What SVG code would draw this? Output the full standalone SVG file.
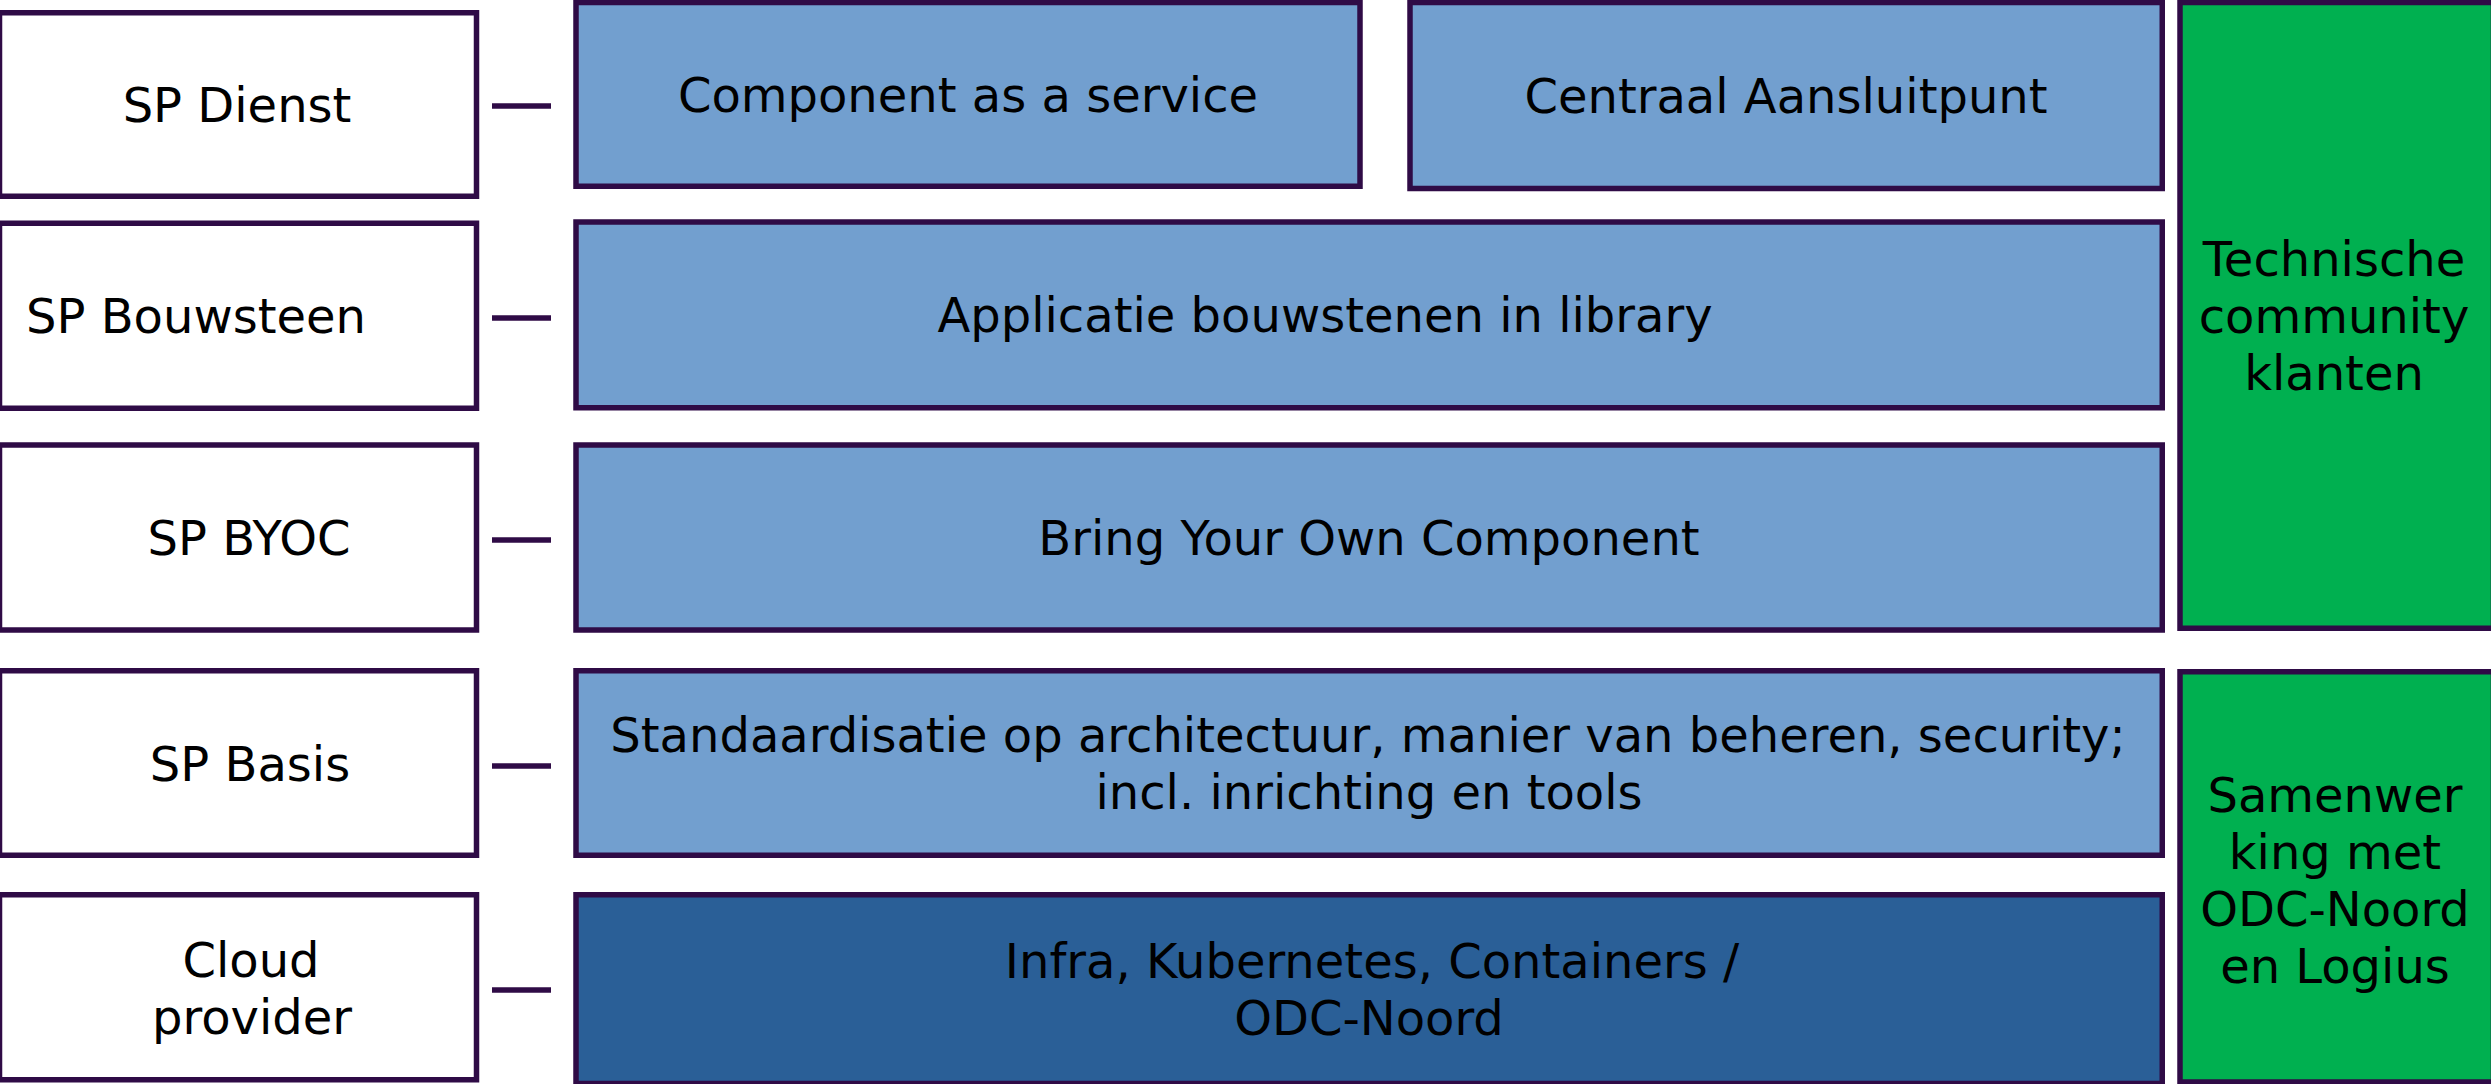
<svg xmlns="http://www.w3.org/2000/svg" width="2491" height="1084" viewBox="0 0 2491 1084">
<style>
.box{stroke:#2f0b46;stroke-width:5.5}
.w{fill:#ffffff}
.lb{fill:#729fcf}
.db{fill:#2a5f97}
.g{fill:#00b050}
text{font-family:"DejaVu Sans","Liberation Sans",sans-serif;font-size:48px;fill:#000000;text-anchor:middle}
.conn line{stroke:#2f0b46;stroke-width:5.5}
</style>
<rect width="2491" height="1084" fill="#ffffff"/>
<g id="sp-dienst"><rect class="box w" x="-0.5" y="12.75" width="477" height="183.5"/><text x="237" y="122">SP Dienst</text></g>
<g id="sp-bouwsteen"><rect class="box w" x="-0.5" y="223.25" width="477" height="185"/><text x="196" y="333">SP Bouwsteen</text></g>
<g id="sp-byoc"><rect class="box w" x="-0.5" y="445" width="477" height="185"/><text x="249" y="555">SP BYOC</text></g>
<g id="sp-basis"><rect class="box w" x="-0.5" y="670.75" width="477" height="184.5"/><text x="250" y="780.5">SP Basis</text></g>
<g id="cloud-provider"><rect class="box w" x="-0.5" y="894.75" width="477" height="185"/><text x="251" y="977">Cloud</text><text x="252" y="1034">provider</text></g>
<g id="component-service"><rect class="box lb" x="576" y="2.5" width="784" height="183.75"/><text x="968" y="112">Component as a service</text></g>
<g id="centraal-aansluitpunt"><rect class="box lb" x="1410" y="2.5" width="752.25" height="186"/><text x="1786" y="113">Centraal Aansluitpunt</text></g>
<g id="applicatie-bouwstenen"><rect class="box lb" x="576" y="222" width="1586.25" height="185.75"/><text x="1325" y="332">Applicatie bouwstenen in library</text></g>
<g id="byoc"><rect class="box lb" x="576" y="445" width="1586.25" height="185"/><text x="1369" y="555">Bring Your Own Component</text></g>
<g id="standaardisatie"><rect class="box lb" x="576" y="670.75" width="1586.25" height="184.5"/><text x="1368" y="752">Standaardisatie op architectuur, manier van beheren, security;</text><text x="1369" y="809">incl. inrichting en tools</text></g>
<g id="infra"><rect class="box db" x="576" y="894.75" width="1586.25" height="188.75"/><text x="1372" y="978">Infra, Kubernetes, Containers /</text><text x="1369" y="1035">ODC-Noord</text></g>
<g id="technische-community"><rect class="box g" x="2180" y="2.5" width="313.5" height="625.75"/><text x="2334" y="276">Technische</text><text x="2334" y="333">community</text><text x="2334" y="390">klanten</text></g>
<g id="samenwerking"><rect class="box g" x="2180" y="671.75" width="313.5" height="410.25"/><text x="2335" y="811.5">Samenwer</text><text x="2335" y="868.5">king met</text><text x="2335" y="925.5">ODC-Noord</text><text x="2335" y="982.5">en Logius</text></g>
<g id="connectors" class="conn">
<line x1="492" y1="106" x2="551" y2="106"/>
<line x1="492" y1="318" x2="551" y2="318"/>
<line x1="492" y1="540" x2="551" y2="540"/>
<line x1="492" y1="766" x2="551" y2="766"/>
<line x1="492" y1="990" x2="551" y2="990"/>
</g>
</svg>
